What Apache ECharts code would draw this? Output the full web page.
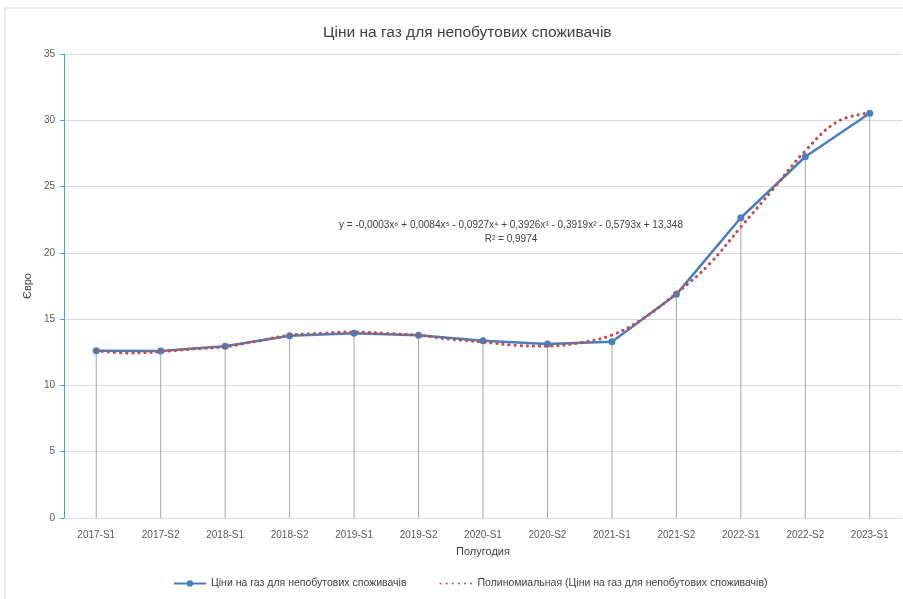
<!DOCTYPE html>
<html><head><meta charset="utf-8">
<script src="https://cdn.jsdelivr.net/npm/echarts@6/dist/echarts.min.js"></script>
<style>html,body{margin:0;padding:0;background:#fff}#c{width:903px;height:599px}</style>
</head><body><div id="c"></div>
<script>
const categories = ['2017-S1','2017-S2','2018-S1','2018-S2','2019-S1','2019-S2','2020-S1','2020-S2','2021-S1','2021-S2','2022-S1','2022-S2','2023-S1'];
const prices = [12.62, 12.6, 12.95, 13.75, 13.93, 13.78, 13.37, 13.13, 13.3, 16.87, 22.65, 27.25, 30.53];
const trendX = [0,0.5,1,1.5,2,2.5,3,3.5,4,4.5,5,5.5,6,6.5,7,7.5,8,8.5,9,9.5,10,10.5,11,11.5,12];
const trendY = [12.62,12.45,12.55,12.75,12.92,13.35,13.78,13.93,14.03,13.93,13.78,13.48,13.28,13.03,12.97,13.22,13.8,15.1,16.95,19.1,21.95,24.8,27.7,29.9,30.55];
const seriesName = 'Ціни на газ для непобутових споживачів';
const trendName = 'Полиномиальная (Ціни на газ для непобутових споживачів)';
const equation = 'y = -0,0003x⁶ + 0,0084x⁵ - 0,0927x⁴ + 0,3926x³ - 0,3919x² - 0,5793x + 13,348';
const r2 = 'R² = 0,9974';

const font = 'Liberation Sans, Arial, sans-serif';
const chart = echarts.init(document.getElementById('c'));
chart.setOption({
  animation: false,
  textStyle: {fontFamily: font},
  title: {text: 'Ціни на газ для непобутових споживачів', left: 318, top: 20,
    textStyle: {fontSize: 15.5, fontWeight: 'normal', color: '#404040', fontFamily: font}},
  graphic: [
    {type: 'rect', shape: {x: 5, y: 8, width: 920, height: 620}, style: {fill: 'none', stroke: '#d9d9d9', lineWidth: 1}, silent: true},
    {type: 'text', x: 511, y: 225, style: {text: equation, fill: '#404040', font: '10px ' + font, align: 'center', verticalAlign: 'middle'}},
    {type: 'text', x: 511, y: 239, style: {text: r2, fill: '#404040', font: '10px ' + font, align: 'center', verticalAlign: 'middle'}}
  ],
  legend: {data: [seriesName, {name: trendName, itemStyle: {opacity: 0, borderWidth: 0}}],
    bottom: 5, left: 168, itemGap: 33, itemWidth: 32, itemHeight: 8,
    textStyle: {fontSize: 10.5, color: '#404040'}},
  grid: {left: 64, right: 1, top: 54, bottom: 81, containLabel: false},
  xAxis: [
    {type: 'category', data: categories, boundaryGap: true,
      name: 'Полугодия', nameLocation: 'middle', nameGap: 28, nameTextStyle: {fontSize: 11, color: '#404040'},
      axisLine: {lineStyle: {color: '#d9d9d9'}}, axisTick: {show: false},
      axisLabel: {fontSize: 10, color: '#595959', margin: 12}},
    {type: 'value', min: -0.5, max: 12.5, show: false}
  ],
  yAxis: {type: 'value', min: 0, max: 35, interval: 5,
    name: 'Євро', nameLocation: 'middle', nameGap: 30, nameTextStyle: {fontSize: 11, color: '#404040'},
    axisLine: {show: true, onZero: false, lineStyle: {color: '#5b9bd5'}},
    axisTick: {show: true, length: 4, lineStyle: {color: '#5b9bd5'}},
    axisLabel: {fontSize: 10, color: '#595959', margin: 9},
    splitLine: {lineStyle: {color: '#d9d9d9'}}},
  series: [
    {type: 'bar', name: 'drop', data: prices, barWidth: 1, silent: true, z: 1,
      itemStyle: {color: '#a6a6a6'}, legendHoverLink: false},
    {type: 'line', name: seriesName, data: prices, z: 3,
      symbol: 'circle', symbolSize: 7,
      lineStyle: {color: '#4a7ebb', width: 2.5}, itemStyle: {color: '#4a7ebb'}},
    {type: 'line', name: trendName, xAxisIndex: 1, data: trendX.map((x, i) => [x, trendY[i]]),
      smooth: 0.4, symbol: 'none', z: 4,
      lineStyle: {color: '#c0504d', width: 3.2, type: [0.1, 6], cap: 'round'},
      itemStyle: {color: '#c0504d'}}
  ]
});
</script></body></html>
